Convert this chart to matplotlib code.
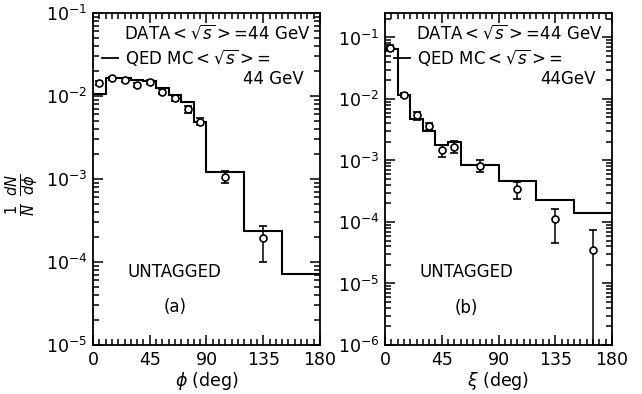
import numpy as np
import matplotlib
matplotlib.use('Agg')
import matplotlib.pyplot as plt
from matplotlib.ticker import MultipleLocator, LogLocator, NullFormatter

# panel (a): phi distribution
phi_edges = [0, 10, 20, 30, 40, 50, 60, 70, 80, 90, 120, 150, 180]
phi_mc = [0.0105, 0.0165, 0.0165, 0.0158, 0.0150, 0.0124, 0.0103, 0.0085, 0.0049, 0.00123, 0.000235, 0.000072]
phi_x = [5, 15, 25, 35, 45, 55, 65, 75, 85, 105, 135]
phi_data = [0.0142, 0.0163, 0.0156, 0.0136, 0.0146, 0.0113, 0.0094, 0.0069, 0.0049, 0.00105, 0.000195]
phi_hi = [0.0150, 0.0171, 0.0163, 0.0143, 0.0154, 0.0120, 0.0101, 0.0076, 0.0054, 0.00126, 0.00027]
phi_lo = [0.0134, 0.0155, 0.0149, 0.0129, 0.0138, 0.0106, 0.0087, 0.0063, 0.0045, 0.00089, 0.000100]

# panel (b): xi distribution
xi_edges = [0, 10, 20, 30, 40, 50, 60, 90, 120, 150, 180]
xi_mc = [0.065, 0.0116, 0.0048, 0.0030, 0.0018, 0.0020, 0.00086, 0.00046, 0.000227, 0.000141]
xi_x = [4, 15, 25, 35, 45, 55, 75, 105, 135, 165]
xi_data = [0.068, 0.0116, 0.0055, 0.0036, 0.00146, 0.00166, 0.00080, 0.00035, 0.00011, 0.000035]
xi_hi = [0.075, 0.0125, 0.0062, 0.0041, 0.00176, 0.0021, 0.0010, 0.00044, 0.000165, 0.000073]
xi_lo = [0.061, 0.0107, 0.0046, 0.0031, 0.00113, 0.00132, 0.00065, 0.00024, 0.000046, 1e-7]

plt.rcParams['font.family'] = 'DejaVu Sans'
plt.rcParams['mathtext.fontset'] = 'dejavusans'

fig = plt.figure(figsize=(6.42, 3.94), dpi=100)
ax1 = fig.add_axes([93/642, 49/394, 227/642, 332/394])
ax2 = fig.add_axes([385/642, 49/394, 227/642, 332/394])


def draw(ax, edges, mc, x, data, hi, lo, ylim):
    ax.stairs(mc, edges, baseline=None, color='black', linewidth=1.5)
    d = np.array(data)
    yerr = [d - np.array(lo), np.array(hi) - d]
    ax.errorbar(x, data, yerr=yerr, fmt='o', mfc='white', mec='black', ecolor='black',
                ms=5, mew=1.2, elinewidth=1.1, capsize=3, capthick=1.1, zorder=3)
    ax.set_yscale('log')
    ax.set_xlim(0, 180)
    ax.set_ylim(*ylim)
    ax.xaxis.set_major_locator(MultipleLocator(45))
    ax.xaxis.set_minor_locator(MultipleLocator(5))
    ax.yaxis.set_major_locator(LogLocator(base=10, numticks=12))
    ax.yaxis.set_minor_locator(LogLocator(base=10, subs=np.arange(2, 10), numticks=12))
    ax.yaxis.set_minor_formatter(NullFormatter())
    ax.tick_params(which='both', direction='in', top=True, right=True, labelsize=12.5, width=1.1)
    ax.tick_params(which='major', length=7, pad=4)
    ax.tick_params(which='minor', length=4)
    for s in ax.spines.values():
        s.set_linewidth(1.3)


draw(ax1, phi_edges, phi_mc, phi_x, phi_data, phi_hi, phi_lo, (1e-5, 1e-1))
draw(ax2, xi_edges, xi_mc, xi_x, xi_data, xi_hi, xi_lo, (1e-6, 0.25))

ax1.set_xlabel(r'$\phi$ (deg)', fontsize=12.5, labelpad=1)
ax2.set_xlabel(r'$\xi$ (deg)', fontsize=12.5, labelpad=1)

for ax, last in ((ax1, '44 GeV'), (ax2, '44GeV')):
    ax.text(0.96, 0.94, r'DATA$<\sqrt{s}>$=44 GeV', transform=ax.transAxes,
            ha='right', va='center', fontsize=12)
    ax.plot([0.04, 0.11], [0.865, 0.865], transform=ax.transAxes, color='black', lw=1.3)
    ax.text(0.14, 0.865, r'QED MC$<\sqrt{s}>$=', transform=ax.transAxes,
            ha='left', va='center', fontsize=12)
    ax.text(0.93, 0.80, last, transform=ax.transAxes, ha='right', va='center', fontsize=12)
    ax.text(0.15, 0.22, 'UNTAGGED', transform=ax.transAxes, ha='left', va='center', fontsize=12)

ax1.text(0.36, 0.115, '(a)', transform=ax1.transAxes, ha='center', va='center', fontsize=12)
ax2.text(0.36, 0.11, '(b)', transform=ax2.transAxes, ha='center', va='center', fontsize=12)

fig.text(22/642, 1 - 195/394, r'$\frac{1}{N}\ \frac{dN}{d\phi}$', rotation=90,
         ha='center', va='center', fontsize=15)

fig.savefig('out.png', dpi=100)
